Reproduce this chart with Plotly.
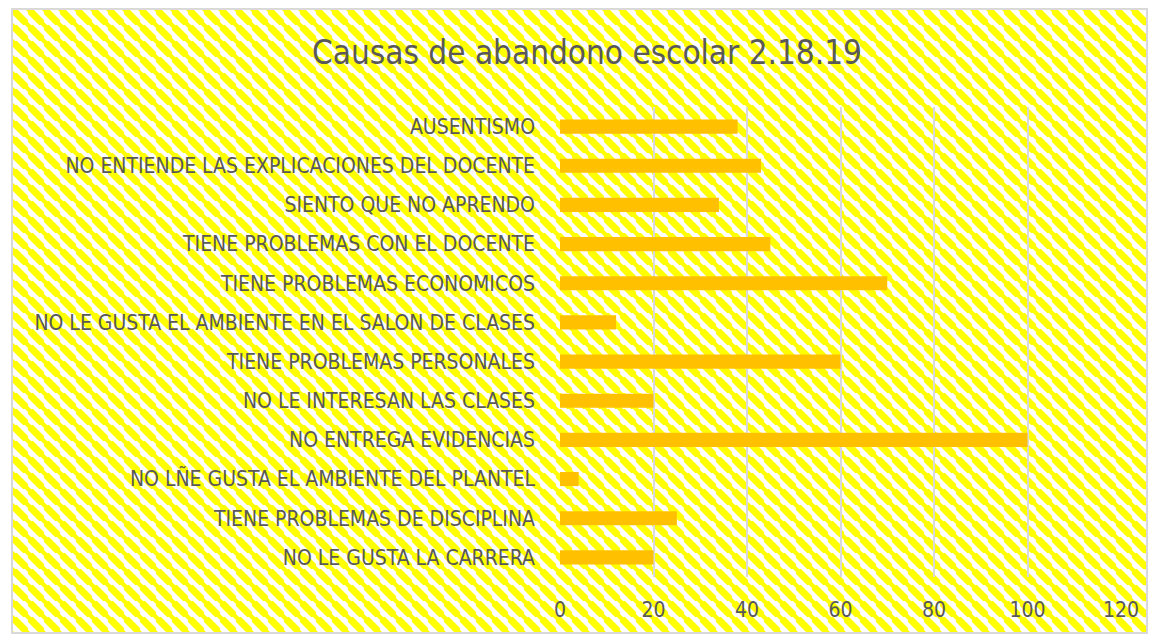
import base64
import plotly.graph_objects as go

categories = [
    "NO LE GUSTA LA CARRERA",
    "TIENE PROBLEMAS DE DISCIPLINA",
    "NO LÑE GUSTA EL AMBIENTE DEL PLANTEL",
    "NO ENTREGA EVIDENCIAS",
    "NO LE INTERESAN LAS CLASES",
    "TIENE PROBLEMAS PERSONALES",
    "NO LE GUSTA EL AMBIENTE EN EL SALON DE CLASES",
    "TIENE PROBLEMAS ECONOMICOS",
    "TIENE PROBLEMAS CON EL DOCENTE",
    "SIENTO QUE NO APRENDO",
    "NO ENTIENDE LAS EXPLICACIONES DEL DOCENTE",
    "AUSENTISMO",
]
values = [20, 25, 4, 100, 20, 60, 12, 70, 45, 34, 43, 38]
tick_vals = [0, 20, 40, 60, 80, 100, 120]

W, H = 1150, 636
L, R, T, B = 560, 29, 107, 59
pw, ph = W - L - R, H - T - B
bx0, bx1, by0, by1 = 12, 1147, 9, 633
bw, bh = bx1 - bx0, by1 - by0

svg = (
    f'<svg xmlns="http://www.w3.org/2000/svg" width="{bw}" height="{bh}" '
    f'viewBox="0 0 {bw} {bh}" preserveAspectRatio="none">'
    '<defs><pattern id="p" width="16" height="16" patternUnits="userSpaceOnUse">'
    '<rect width="16" height="16" fill="#ffffff"/>'
    '<polygon points="0,0 5,0 16,11 16,16 11,16 0,5" fill="#ffff00"/>'
    '<polygon points="13,0 16,0 16,3" fill="#ffff00"/>'
    '<polygon points="0,13 0,16 3,16" fill="#ffff00"/>'
    '</pattern></defs>'
    f'<rect width="{bw}" height="{bh}" fill="url(#p)"/></svg>'
)
src = "data:image/svg+xml;base64," + base64.b64encode(svg.encode()).decode()

def px(x):
    return (x - L) / pw

def py(y):
    return (H - B - y) / ph

font = "Liberation Sans Narrow, DejaVu Sans Condensed, Arial Narrow, sans-serif"

fig = go.Figure(
    go.Bar(
        x=values,
        y=categories,
        orientation="h",
        marker=dict(color="#ffc000", line=dict(width=0)),
        hoverinfo="x+y",
    )
)

fig.update_layout(
    width=W,
    height=H,
    margin=dict(l=L, r=R, t=T, b=B, pad=0),
    paper_bgcolor="#ffffff",
    plot_bgcolor="rgba(0,0,0,0)",
    bargap=0.64,
    showlegend=False,
    font=dict(family=font, color="#595959"),
    title=dict(
        text="Causas de abandono escolar 2.18.19",
        x=px(587),
        xref="paper",
        xanchor="center",
        y=1 - 52 / H,
        yanchor="middle",
        font=dict(size=33, color="#595959", family=font),
    ),
    xaxis=dict(
        range=[0, 120],
        tickvals=tick_vals,
        ticktext=[str(v) for v in tick_vals],
        showgrid=True,
        gridcolor="#d9d9d9",
        gridwidth=2,
        zeroline=False,
        showline=False,
        ticks="",
        tickfont=dict(size=21, color="#595959"),
        ticklabelstandoff=18,
        fixedrange=True,
    ),
    yaxis=dict(
        categoryorder="array",
        categoryarray=categories,
        showgrid=False,
        zeroline=False,
        showline=False,
        ticks="",
        tickfont=dict(size=21, color="#595959"),
        ticklabelstandoff=24,
        fixedrange=True,
    ),
    images=[
        dict(
            source=src,
            xref="paper",
            yref="paper",
            x=px(bx0),
            y=py(by0),
            sizex=bw / pw,
            sizey=bh / ph,
            xanchor="left",
            yanchor="top",
            sizing="stretch",
            layer="below",
        )
    ],
    shapes=[
        dict(
            type="rect",
            xref="paper",
            yref="paper",
            x0=px(bx0),
            x1=px(bx1),
            y0=py(by1),
            y1=py(by0),
            line=dict(color="#d9d9d9", width=2),
            fillcolor="rgba(0,0,0,0)",
            layer="above",
        )
    ],
)

fig.write_html(
    "out.html",
    config={"displayModeBar": False},
    post_script="document.body.style.margin='0';document.body.style.overflow='hidden';",
)
